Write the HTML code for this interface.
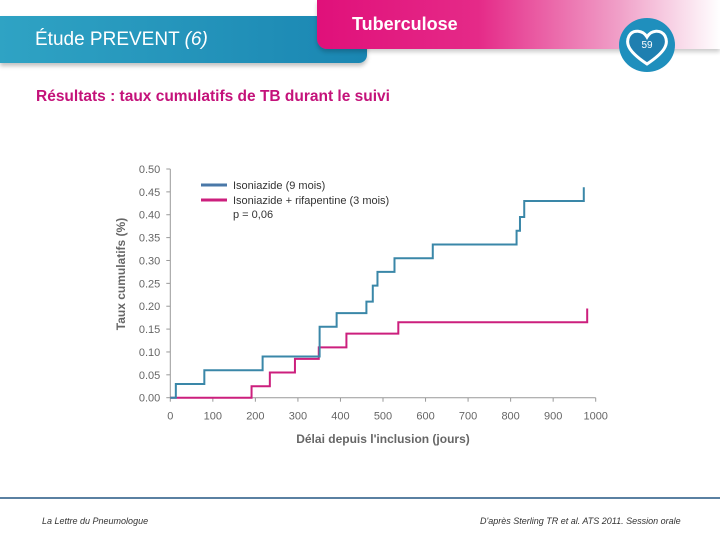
<!DOCTYPE html>
<html><head><meta charset="utf-8"><style>
body{margin:0;width:720px;height:540px;overflow:hidden;background:#fff;font-family:"Liberation Sans",sans-serif;position:relative}
.abs{position:absolute}
</style></head><body>
<div class="abs" style="left:0;top:16px;width:367px;height:47px;background:linear-gradient(90deg,#2fa3c4,#1a86b2);border-radius:0 0 8px 0;box-shadow:0 3px 4px rgba(0,0,0,0.25)"></div>
<div class="abs" style="left:35px;top:29px;font-size:19px;color:#fff">Étude PREVENT <i>(6)</i></div>
<div class="abs" style="left:317px;top:0;width:403px;height:49px;background:linear-gradient(90deg,#e0107a 0%,#e52a88 40%,#f0a0c8 75%,#fff 100%);border-radius:0 0 0 10px;box-shadow:0 3px 4px rgba(0,0,0,0.2)"></div>
<div class="abs" style="left:352px;top:14px;font-size:18px;font-weight:bold;color:#fff">Tuberculose</div>
<div class="abs" style="left:619px;top:18px;width:56px;height:54px;border-radius:50%;background:#1f8fbd"></div>
<svg class="abs" style="left:619px;top:18px" width="56" height="54"><path d="M28 46 C10 34 6 26 10 18 C14 11 24 12 28 19 C32 12 42 11 46 18 C50 26 46 34 28 46Z" fill="#1f7fb0" stroke="#fff" stroke-width="3"/><text x="28" y="30" font-size="10" fill="#fff" text-anchor="middle" font-family="Liberation Sans">59</text></svg>
<div class="abs" style="left:36px;top:88px;font-size:15.5px;font-weight:bold;color:#c4127a">Résultats : taux cumulatifs de TB durant le suivi</div>

<svg class="abs" style="left:0;top:0" width="720" height="540" id="chart"></svg>

<div class="abs" style="left:0;top:497px;width:720px;height:2px;background:#5a80a2"></div>
<div class="abs" style="left:42px;top:516px;font-size:9px;font-style:italic;color:#333">La Lettre du Pneumologue</div>
<div class="abs" style="left:480px;top:516px;font-size:9px;font-style:italic;color:#333">D'après Sterling TR et al. ATS 2011. Session orale</div>

<script>
const xTicks=[0,100,200,300,400,500,600,700,800,900,1000];
const yTicks=["0.00","0.05","0.10","0.15","0.20","0.25","0.30","0.35","0.40","0.45","0.50"];
const yTickVals=[0,0.05,0.10,0.15,0.20,0.25,0.30,0.35,0.40,0.45,0.50];
const inhDays=[0,13,80,217,351,391,461,476,487,527,617,814,822,832,972];
const inhVals=[0,0.03,0.06,0.09,0.155,0.185,0.21,0.245,0.275,0.305,0.335,0.365,0.395,0.43,0.46];
const rpDays=[0,191,234,293,349,414,536,980];
const rpVals=[0,0.025,0.055,0.085,0.11,0.14,0.165,0.195];
const legendLabels=["Isoniazide (9 mois)","Isoniazide + rifapentine (3 mois)"];
const NS='http://www.w3.org/2000/svg';
const svg=document.getElementById('chart');
const X=d=>170.3+d*0.4254;
const Y=v=>397.7-v*457.4;
function mk(t,a,p){const e=document.createElementNS(NS,t);for(const k in a)e.setAttribute(k,a[k]);(p||svg).appendChild(e);return e;}
let e;
e=mk('line',{x1:X(0),y1:Y(0.5),x2:X(0),y2:Y(0),stroke:'#999','stroke-width':1});


e=mk('line',{x1:X(0),y1:Y(0),x2:X(1000),y2:Y(0),stroke:'#999','stroke-width':1});


yTickVals.forEach((v,i)=>{
 mk('line',{x1:X(0)-4,y1:Y(v),x2:X(0),y2:Y(v),stroke:'#999'});
 e=mk('text',{x:X(0)-10,y:Y(v)+4,'font-size':11,fill:'#666','text-anchor':'end','font-family':'Liberation Sans'});
 e.textContent=yTicks[i];
 
 
});
xTicks.forEach(d=>{
 mk('line',{x1:X(d),y1:Y(0),x2:X(d),y2:Y(0)+4,stroke:'#999'});
 e=mk('text',{x:X(d),y:Y(0)+22,'font-size':11,fill:'#666','text-anchor':'middle','font-family':'Liberation Sans'});
 e.textContent=d;
 
 
});
e=mk('text',{x:383,y:443,'font-size':12,'font-weight':'bold',fill:'#666','text-anchor':'middle','font-family':'Liberation Sans'});
e.textContent="Délai depuis l'inclusion (jours)";


e=mk('text',{x:0,y:0,'font-size':12,'font-weight':'bold',fill:'#666','text-anchor':'middle','font-family':'Liberation Sans',transform:'translate(125,274) rotate(-90)'});
e.textContent="Taux cumulatifs (%)";


function step(days,vals,col){
 let d=`M${X(days[0])},${Y(vals[0])}`;
 for(let i=1;i<days.length-1;i++){d+=` H${X(days[i])} V${Y(vals[i])}`;}
 const n=days.length-1;
 d+=` H${X(days[n])} V${Y(vals[n])}`;
 return mk('path',{d:d,fill:'none',stroke:col,'stroke-width':2});
}
e=step(rpDays,rpVals,'#cc1f7d');


e=step(inhDays,inhVals,'#3a87a8');


const cols=['#4a78a8','#cc1f7d'];
legendLabels.forEach((l,i)=>{
 e=mk('line',{x1:201,y1:185+i*15,x2:227,y2:185+i*15,stroke:cols[i],'stroke-width':3});
 
 
 e=mk('text',{x:233,y:189+i*15,'font-size':11,fill:'#333','font-family':'Liberation Sans'});
 e.textContent=l;
 
 
});
e=mk('text',{x:233,y:218,'font-size':11,fill:'#333','font-family':'Liberation Sans'});
e.textContent='p = 0,06';


</script>
</body></html>
